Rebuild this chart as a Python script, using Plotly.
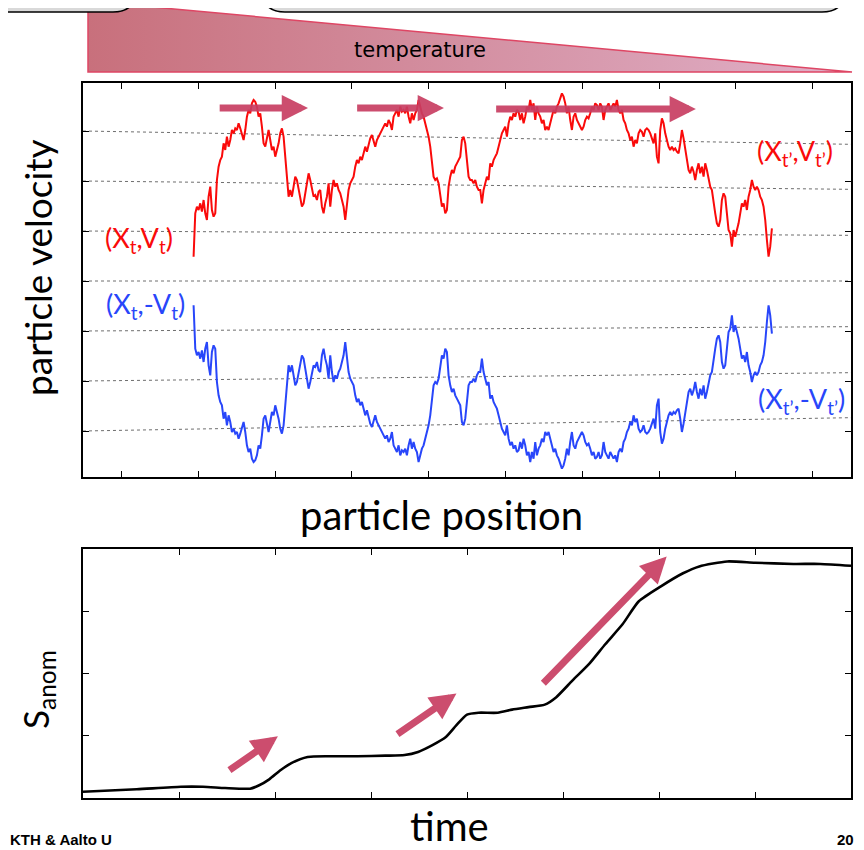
import numpy as np
import plotly.graph_objects as go

# ---------------- data ----------------
# Red trajectory: particle velocity V_t (arbitrary units, tick spacing = 150)
VEL = [
    73, 203, 223, 213, 233, 208, 243, 203, 183, 253, 283, 213, 193, 203, 303, 343, 363, 373, 413, 393,
    433, 403, 423, 453, 443, 458, 453, 473, 458, 443, 423, 453, 493, 513, 503, 533, 543, 538, 523, 493,
    503, 463, 413, 403, 433, 453, 423, 393, 403, 373, 393, 413, 443, 458, 433, 373, 313, 253, 273, 253,
    283, 313, 303, 273, 243, 223, 233, 263, 303, 323, 303, 273, 253, 258, 243, 268, 273, 223, 203, 233,
    253, 293, 223, 273, 303, 283, 293, 273, 263, 243, 223, 183, 233, 273, 293, 303, 313, 343, 363, 353,
    373, 363, 383, 403, 388, 413, 428, 438, 423, 403, 423, 433, 443, 453, 463, 473, 463, 483, 473, 453,
    493, 503, 513, 493, 523, 508, 513, 503, 523, 493, 473, 503, 483, 503, 513, 543, 523, 503, 493, 473,
    453, 433, 403, 353, 313, 303, 308, 293, 253, 223, 233, 203, 213, 283, 313, 333, 323, 343, 353, 363,
    373, 423, 433, 413, 353, 313, 303, 303, 293, 303, 283, 273,
    273, 233, 273, 293, 313, 303, 353, 343, 363, 373, 383, 403, 423, 443, 453, 463, 433, 473, 493, 483,
    503, 493, 513, 508, 483, 503, 473, 493, 523, 513, 543, 513, 533, 483, 523, 503, 493, 473, 483, 453,
    463, 453, 473, 493, 513, 503, 523, 533, 548, 563, 553, 533, 503, 523, 483, 453, 493, 503, 483, 473,
    463, 453, 463, 483, 493, 488, 503, 523, 513, 533, 528, 513, 533, 523, 483, 513, 523, 533, 513, 523,
    533, 523, 543, 513, 503, 513, 483, 473, 453, 443, 423, 433, 403, 423, 413, 443, 453, 448, 433, 453,
    458, 453, 443, 428, 413, 443, 373, 353, 453, 488, 473, 443, 423, 403, 393, 403, 393, 398, 388, 383,
    413, 453, 428, 393, 373, 333, 323, 343, 328, 303, 333, 353, 323, 343, 313, 353, 333, 303, 283, 273,
    233, 203, 173, 163, 183, 243, 263, 253, 203, 153, 143, 103, 153, 133, 153, 173, 203, 233, 223, 243,
    213, 253, 273, 303, 283, 273, 283, 273, 253, 243, 223, 183, 123, 73, 103, 158,
]
POS_START, POS_END = 1.44, 8.97          # particle position of first / last sample
VEL_TICKS = [-450, -300, -150, 0, 150, 300, 450]
POS_TICKS = [0.5, 1.5, 2.5, 3.5, 4.5, 5.5, 6.5, 7.5, 8.5, 9.5]
GUIDE_LEFT = [450, 300, 150, 0, -150, -300, -450]    # dotted guide levels at left edge
GUIDE_RIGHT = [410, 275, 137, 0, -137, -275, -410]   # dotted guide levels at right edge

# Anomalous entropy vs time
TIME = [0, 0.56, 1.02, 1.25, 1.48, 1.74, 1.83, 1.94, 2.06, 2.17, 2.34, 2.57, 2.86, 3.15, 3.35, 3.49,
        3.64, 3.78, 3.89, 4.00, 4.12, 4.32, 4.47, 4.64, 4.81, 4.93, 5.10, 5.27, 5.44, 5.62, 5.79, 6.02,
        6.25, 6.42, 6.71, 7.00, 7.40, 7.68, 8.0]
S_ANOM = [0.10, 0.14, 0.18, 0.18, 0.16, 0.15, 0.20, 0.30, 0.45, 0.56, 0.66, 0.67, 0.67, 0.68, 0.69, 0.74,
          0.85, 0.98, 1.17, 1.34, 1.37, 1.37, 1.42, 1.46, 1.50, 1.62, 1.89, 2.15, 2.47, 2.79, 3.16, 3.40,
          3.61, 3.72, 3.80, 3.78, 3.76, 3.76, 3.73]
TIME_TICKS = [1, 2, 3, 4, 5, 6, 7]
S_TICKS = [1, 2, 3]

# Arrows: (tail_x, tail_y, head_x, head_y)
TOP_ARROWS = [(1.76, 519, 2.93, 519), (3.55, 519, 4.70, 519), (5.36, 516, 7.98, 516)]
BOTTOM_ARROWS = [(1.51, 0.43, 2.03, 0.99), (3.26, 1.01, 3.89, 1.68), (4.78, 1.82, 6.08, 3.88)]

# ---------------- styling / helpers ----------------
PAGE_W, PAGE_H = 864, 850
OFF = 8                         # browser body margin
W, H = PAGE_W - OFF, PAGE_H - OFF
RED = "rgb(250,10,10)"
BLUE = "rgb(40,70,250)"
ARROW = "rgba(200,62,98,0.92)"
FONT = "Lato"


def px(x):
    return (x - OFF) / W


def py(y):
    return 1 - (y - OFF) / H


pos = np.linspace(POS_START, POS_END, len(VEL))
vel_neg = [-v for v in VEL]

fig = go.Figure()

# decorative page layer (page pixel coordinates) -- temperature wedge
fig.add_trace(go.Scatter(
    x=[88, 88, 852, 88], y=[1, 72, 72, 1], xaxis="x3", yaxis="y3",
    mode="lines", fill="toself",
    line=dict(color="rgb(222,70,100)", width=1.5),
    fillgradient=dict(type="horizontal",
                      colorscale=[[0, "rgb(200,112,124)"], [1, "rgb(224,176,200)"]]),
    hoverinfo="skip", showlegend=False,
))

# dotted guide lines
for yl, yr in zip(GUIDE_LEFT, GUIDE_RIGHT):
    fig.add_trace(go.Scatter(x=[0, 10], y=[yl, yr], mode="lines",
                             line=dict(color="rgb(110,110,110)", width=1, dash="dot"),
                             hoverinfo="skip", showlegend=False))

fig.add_trace(go.Scatter(x=pos, y=VEL, mode="lines", line=dict(color=RED, width=2),
                         showlegend=False))
fig.add_trace(go.Scatter(x=pos, y=vel_neg, mode="lines", line=dict(color=BLUE, width=2),
                         showlegend=False))

fig.add_trace(go.Scatter(x=TIME, y=S_ANOM, xaxis="x2", yaxis="y2", mode="lines",
                         line=dict(color="black", width=2.6, shape="spline", smoothing=0.6),
                         showlegend=False))

axis_common = dict(showline=True, linecolor="black", linewidth=1.8, mirror="ticks",
                   ticks="inside", ticklen=6, tickcolor="black", tickwidth=1.2,
                   showticklabels=False, showgrid=False, zeroline=False, fixedrange=True)

fig.update_layout(
    width=W, height=H, margin=dict(l=0, r=0, t=0, b=0),
    paper_bgcolor="white", plot_bgcolor="rgba(0,0,0,0)",
    xaxis=dict(domain=[px(83), px(851)], range=[0, 10], tickvals=POS_TICKS, anchor="y", **axis_common),
    yaxis=dict(domain=[py(477), py(83)], range=[-588, 594], tickvals=VEL_TICKS, anchor="x", **axis_common),
    xaxis2=dict(domain=[px(83), px(851)], range=[0, 8], tickvals=TIME_TICKS, anchor="y2", **axis_common),
    yaxis2=dict(domain=[py(798), py(549)], range=[0, 4], tickvals=S_TICKS, anchor="x2", **axis_common),
    xaxis3=dict(domain=[0, 1], range=[OFF, PAGE_W], visible=False, fixedrange=True, anchor="y3"),
    yaxis3=dict(domain=[0, 1], range=[PAGE_H, OFF], visible=False, fixedrange=True, anchor="x3"),
)

# title boxes at the top of the slide (clipped)
fig.add_shape(type="path", xref="x3", yref="y3", layer="above",
              path="M -10,-40 L -10,12 L 113,12 Q 136,12 136,-11 L 136,-40 Z",
              fillcolor="rgb(217,217,217)", line=dict(color="black", width=1.6))
fig.add_shape(type="path", xref="x3", yref="y3", layer="above",
              path="M 262,-40 L 262,-11 Q 262,12 285,12 L 822,12 Q 845,12 845,-11 L 845,-40 Z",
              fillcolor="rgb(217,217,217)", line=dict(color="black", width=1.6))

C = dict(xanchor="center", yanchor="middle", showarrow=False)
ann = []
ann.append(dict(text="temperature", x=px(420), y=py(50), xref="paper", yref="paper",
                font=dict(family="DejaVu Sans", size=21, color="black"), **C))
ann.append(dict(text="particle velocity", x=px(38), y=py(268), xref="paper", yref="paper",
                textangle=-90, font=dict(family=FONT, size=37, color="black"), **C))
ann.append(dict(text="particle position", x=px(441), y=py(515), xref="paper", yref="paper",
                font=dict(family=FONT, size=40, color="black"), **C))
ann.append(dict(text="time", x=px(449), y=py(826), xref="paper", yref="paper",
                font=dict(family=FONT, size=40, color="black"), **C))
ann.append(dict(text="S<sub>anom</sub>", x=px(37), y=py(689), xref="paper", yref="paper",
                textangle=-90, font=dict(family=FONT, size=35, color="black"), **C))

# series labels
ann.append(dict(text="(X<sub>t</sub>,V<sub>t</sub>)", x=0.73, y=123, xref="x", yref="y",
                font=dict(family=FONT, size=27, color=RED), **C))
ann.append(dict(text="(X<sub>t’</sub>,V<sub>t’</sub>)", x=9.27, y=384, xref="x", yref="y",
                font=dict(family=FONT, size=27, color=RED), **C))
ann.append(dict(text="(X<sub>t</sub>,-V<sub>t</sub>)", x=0.81, y=-72, xref="x", yref="y",
                font=dict(family=FONT, size=27, color=BLUE), **C))
ann.append(dict(text="(X<sub>t’</sub>,-V<sub>t’</sub>)", x=9.35, y=-357, xref="x", yref="y",
                font=dict(family=FONT, size=27, color=BLUE), **C))

# arrows
for (tx, ty, hx, hy) in TOP_ARROWS:
    ann.append(dict(x=hx, y=hy, ax=tx, ay=ty, xref="x", yref="y", axref="x", ayref="y",
                    text="", showarrow=True, arrowhead=2, arrowsize=0.75, arrowwidth=7,
                    arrowcolor=ARROW))
for (tx, ty, hx, hy) in BOTTOM_ARROWS:
    ann.append(dict(x=hx, y=hy, ax=tx, ay=ty, xref="x2", yref="y2", axref="x2", ayref="y2",
                    text="", showarrow=True, arrowhead=2, arrowsize=0.75, arrowwidth=7,
                    arrowcolor=ARROW))

# slide footer
ann.append(dict(text="<b>KTH & Aalto U</b>", x=px(8), y=0, xref="paper", yref="paper",
                xanchor="left", yanchor="bottom", showarrow=False,
                font=dict(family="Liberation Sans", size=15, color="black")))
ann.append(dict(text="<b>20</b>", x=px(856), y=0, xref="paper", yref="paper",
                xanchor="right", yanchor="bottom", showarrow=False,
                font=dict(family="Liberation Sans", size=15, color="black")))

fig.update_layout(annotations=ann)
fig.write_html("out.html")
